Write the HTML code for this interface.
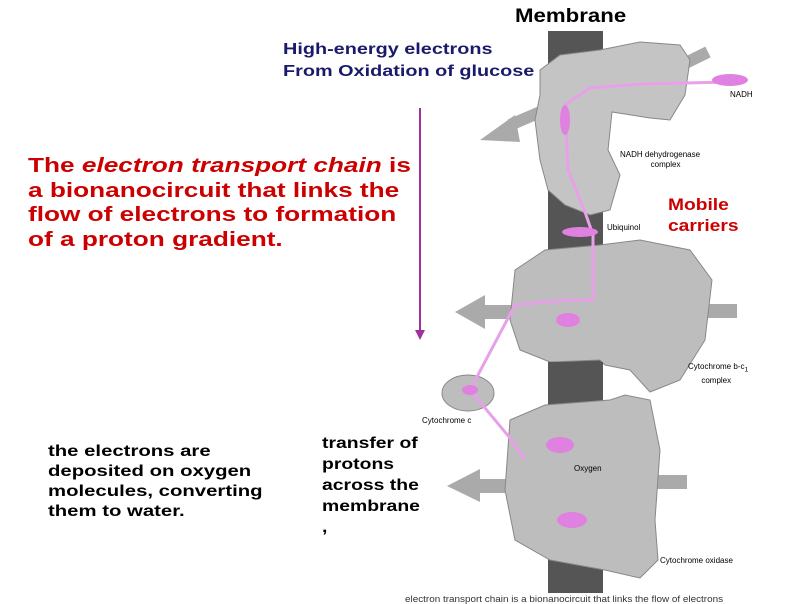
<!DOCTYPE html>
<html><head><style>
body{margin:0;width:800px;height:600px;background:#fff;position:relative;overflow:hidden;font-family:"Liberation Sans",Arial,sans-serif}
.t{position:absolute;white-space:nowrap;transform-origin:0 0}
</style></head><body>
<svg width="800" height="600" style="position:absolute;left:0;top:0">
<rect x="548" y="31" width="55" height="562" fill="#555"/>
<line x1="708" y1="52" x2="590" y2="110" stroke="#aaa" stroke-width="12"/>
<polygon points="480,140 515,115 520,142" fill="#aaa"/>
<line x1="510" y1="125" x2="545" y2="110" stroke="#aaa" stroke-width="12"/>
<polygon points="455,312 485,295 485,329" fill="#aaa"/>
<rect x="484" y="305" width="30" height="14" fill="#aaa"/>
<rect x="695" y="304" width="42" height="14" fill="#aaa"/>
<polygon points="447,486 480,469 480,502" fill="#aaa"/>
<rect x="479" y="479" width="30" height="14" fill="#aaa"/>
<rect x="640" y="475" width="47" height="14" fill="#aaa"/>
<path d="M540,70 L560,55 L600,50 L640,42 L680,45 L690,60 L685,95 L670,120 L650,118 L612,112 L608,150 L620,175 L610,210 L590,215 L565,205 L548,190 L540,160 L535,120 L540,95 Z" fill="#c4c4c4" stroke="#888"/>
<path d="M515,270 L545,250 L600,245 L640,240 L690,250 L712,280 L705,340 L680,380 L650,392 L630,370 L605,365 L600,360 L550,362 L520,350 L510,320 Z" fill="#bdbdbd" stroke="#888"/>
<rect x="548" y="362" width="55" height="60" fill="#555"/>
<ellipse cx="468" cy="393" rx="26" ry="18" fill="#bdbdbd" stroke="#888"/>
<path d="M510,420 L545,405 L610,400 L625,395 L650,400 L660,450 L655,520 L658,560 L640,578 L605,570 L550,560 L515,540 L505,490 Z" fill="#bdbdbd" stroke="#888"/>
<polyline points="730,82 640,84 590,88 565,105 568,170 585,212 593,235 593,300 570,300 515,305 470,390 510,438 525,460" fill="none" stroke="#e8a0e8" stroke-width="3"/>
<ellipse cx="730" cy="80" rx="18" ry="6" fill="#e080e0"/>
<ellipse cx="565" cy="120" rx="5" ry="15" fill="#e080e0"/>
<ellipse cx="580" cy="232" rx="18" ry="5" fill="#e080e0"/>
<ellipse cx="568" cy="320" rx="12" ry="7" fill="#e080e0"/>
<ellipse cx="560" cy="445" rx="14" ry="8" fill="#e080e0"/>
<ellipse cx="572" cy="520" rx="15" ry="8" fill="#e080e0"/>
<ellipse cx="470" cy="390" rx="8" ry="5" fill="#e080e0"/>
<line x1="420" y1="108" x2="420" y2="332" stroke="#a0309a" stroke-width="2"/>
<polygon points="415,330 425,330 420,340" fill="#a0309a"/>
</svg>
<div class="t" style="left:515px;top:6px;font-size:19px;font-weight:bold;color:#000;transform:scaleX(1.17)">Membrane</div>
<div class="t" style="left:283px;top:39px;font-size:16px;font-weight:bold;color:#1a1a6a;line-height:22px;transform:scaleX(1.24)">High-energy electrons<br>From Oxidation of glucose</div>
<div class="t" style="left:28px;top:154px;font-size:20px;font-weight:bold;color:#c00;line-height:24.5px;transform:scaleX(1.31)">The <i>electron transport chain</i> is<br>a bionanocircuit that links the<br>flow of electrons to formation<br>of a proton gradient.</div>
<div class="t" style="left:668px;top:194px;font-size:17px;font-weight:bold;color:#c00;line-height:21px;transform:scaleX(1.13)">Mobile<br>carriers</div>
<div class="t" style="left:48px;top:442px;font-size:16px;font-weight:bold;line-height:20px;transform:scaleX(1.27)">the electrons are<br>deposited on oxygen<br>molecules, converting<br>them to water.</div>
<div class="t" style="left:322px;top:433px;font-size:16px;font-weight:bold;line-height:21px;transform:scaleX(1.21)">transfer of<br>protons<br>across the<br>membrane<br>,</div>
<div class="t" style="left:730px;top:90px;font-size:8px">NADH</div>
<div class="t" style="left:620px;top:150px;font-size:8px;text-align:center;line-height:10px">NADH dehydrogenase<br>&nbsp;&nbsp;&nbsp;&nbsp;&nbsp;complex</div>
<div class="t" style="left:607px;top:223px;font-size:8px">Ubiquinol</div>
<div class="t" style="left:688px;top:362px;font-size:8px;line-height:10px">Cytochrome b-c<sub>1</sub><br>&nbsp;&nbsp;&nbsp;&nbsp;&nbsp;&nbsp;complex</div>
<div class="t" style="left:422px;top:416px;font-size:8px">Cytochrome c</div>
<div class="t" style="left:574px;top:464px;font-size:8px">Oxygen</div>
<div class="t" style="left:660px;top:556px;font-size:8px">Cytochrome oxidase</div>
<div class="t" style="left:405px;top:594px;font-size:9px;color:#333;transform:scaleX(1.1)">electron transport chain is a bionanocircuit that links the flow of electrons</div>
</body></html>
